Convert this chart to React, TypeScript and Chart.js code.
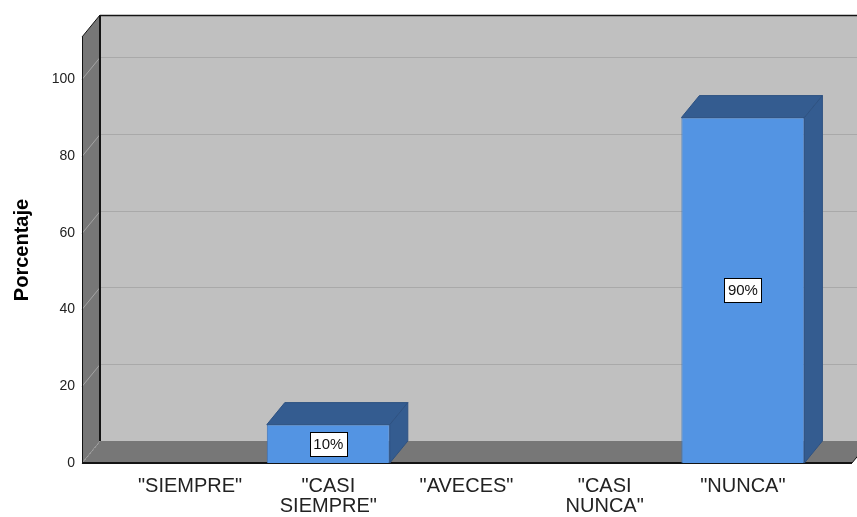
import React, { useEffect, useRef } from 'react';
import { Chart, registerables } from 'chart.js';

Chart.register(...registerables);

// ---- data ----
const categories: string[][] = [
  ['"SIEMPRE"'],
  ['"CASI', 'SIEMPRE"'],
  ['"AVECES"'],
  ['"CASI', 'NUNCA"'],
  ['"NUNCA"'],
];
const percentages: number[] = [0, 10, 0, 0, 90];
const valueLabels: string[] = ['', '10%', '', '', '90%'];
const yTickValues: number[] = [0, 20, 40, 60, 80, 100];
const yMax = 111;
const yTitle = 'Porcentaje';

// ---- style ----
const FONT = '"Liberation Sans", Arial, Helvetica, sans-serif';
const DX = 18;
const DY = -22;
const WALL_MARGIN_L = 39;
const WALL_MARGIN_R = 40;
const BACK_WALL = '#c0c0c0';
const SIDE_WALL = '#777777';
const GRID_BACK = '#a9a9a9';
const GRID_SIDE = '#a4a4a4';
const EDGE = '#141414';
const BAR_FRONT = '#5394e3';
const BAR_SHADE = '#345c90';

function poly(ctx: CanvasRenderingContext2D, pts: number[][], fill: string, stroke?: string) {
  ctx.beginPath();
  ctx.moveTo(pts[0][0], pts[0][1]);
  for (let i = 1; i < pts.length; i++) ctx.lineTo(pts[i][0], pts[i][1]);
  ctx.closePath();
  ctx.fillStyle = fill;
  ctx.fill();
  if (stroke) {
    ctx.strokeStyle = stroke;
    ctx.lineWidth = 1;
    ctx.stroke();
  }
}

function line(ctx: CanvasRenderingContext2D, x1: number, y1: number, x2: number, y2: number, color: string, w: number) {
  ctx.beginPath();
  ctx.moveTo(x1, y1);
  ctx.lineTo(x2, y2);
  ctx.strokeStyle = color;
  ctx.lineWidth = w;
  ctx.stroke();
}

const threeDPlugin = {
  id: 'threeD',
  beforeDatasetsDraw(chart: any) {
    const { ctx, chartArea: a, scales } = chart;
    const ys = scales.y;
    const L = Math.round(a.left - WALL_MARGIN_L);
    const R = Math.round(a.right + WALL_MARGIN_R);
    const T = Math.round(a.top);
    const B = Math.round(a.bottom);
    ctx.save();
    // back wall
    ctx.fillStyle = BACK_WALL;
    ctx.fillRect(L + DX, T + DY, R - L, B - T);
    // left wall
    poly(ctx, [[L, T], [L + DX, T + DY], [L + DX, B + DY], [L, B]], SIDE_WALL);
    // floor
    poly(ctx, [[L, B], [L + DX, B + DY], [R + DX, B + DY], [R, B]], SIDE_WALL);
    // gridlines
    yTickValues.forEach((v) => {
      const py = Math.round(ys.getPixelForValue(v)) + 0.5;
      if (v > 0) {
        line(ctx, L + DX, py + DY, R + DX, py + DY, GRID_BACK, 1);
        line(ctx, L, py, L + DX, py + DY, GRID_SIDE, 1);
      } else {
        ctx.setLineDash([2, 2]);
        line(ctx, L, py, L + DX, py + DY, GRID_SIDE, 1);
        ctx.setLineDash([]);
      }
    });
    // edges
    line(ctx, L + 0.5, T, L + 0.5, B, EDGE, 1);
    line(ctx, L, T, L + DX, T + DY, EDGE, 1);
    line(ctx, L + DX, T + DY + 0.5, R + DX, T + DY + 0.5, EDGE, 1.5);
    line(ctx, L + DX, T + DY, L + DX, B + DY, EDGE, 2);
    line(ctx, L, B, R, B, EDGE, 2);
    line(ctx, R, B, R + DX, B + DY, EDGE, 1);
    ctx.restore();
  },
  afterDatasetsDraw(chart: any) {
    const { ctx } = chart;
    const meta = chart.getDatasetMeta(0);
    ctx.save();
    meta.data.forEach((el: any, i: number) => {
      if (!(percentages[i] > 0)) return;
      const { x, y, base, width } = el.getProps(['x', 'y', 'base', 'width'], true);
      const l = x - width / 2;
      const r = x + width / 2;
      // top face
      poly(ctx, [[l, y], [r, y], [r + DX, y + DY], [l + DX, y + DY]], BAR_SHADE, '#2e5282');
      // side face
      poly(ctx, [[r, y], [r + DX, y + DY], [r + DX, base + DY], [r, base]], BAR_SHADE, '#2e5282');
      // value label
      const text = valueLabels[i];
      if (text) {
        ctx.font = `15px ${FONT}`;
        const tw = ctx.measureText(text).width;
        const bw = Math.round(tw + 7);
        const bh = 24;
        const cy = (y + base) / 2;
        const bx = Math.round(x - bw / 2) + 0.5;
        const by = Math.round(cy - bh / 2) + 0.5;
        ctx.fillStyle = '#ffffff';
        ctx.fillRect(bx, by, bw, bh);
        ctx.strokeStyle = '#000000';
        ctx.lineWidth = 1;
        ctx.strokeRect(bx, by, bw, bh);
        ctx.fillStyle = '#111111';
        ctx.textAlign = 'center';
        ctx.textBaseline = 'middle';
        ctx.fillText(text, x, cy + 1);
      }
    });
    ctx.restore();
  },
};

export default function App() {
  const ref = useRef<HTMLCanvasElement | null>(null);
  useEffect(() => {
    if (!ref.current) return;
    const chart = new Chart(ref.current, {
      type: 'bar',
      data: {
        labels: categories as any,
        datasets: [
          {
            data: percentages,
            backgroundColor: BAR_FRONT,
            borderColor: '#3f74b8',
            borderWidth: 1,
            barPercentage: 0.89,
            categoryPercentage: 1,
          },
        ],
      },
      options: {
        animation: false,
        responsive: false,
        maintainAspectRatio: false,
        events: [],
        layout: { padding: { top: 37, right: 45, left: 0, bottom: 0 } },
        plugins: {
          legend: { display: false },
          tooltip: { enabled: false },
          title: { display: false },
        },
        scales: {
          x: {
            type: 'category',
            offset: true,
            grid: { display: false, drawTicks: false },
            border: { display: false },
            ticks: {
              autoSkip: false,
              maxRotation: 0,
              minRotation: 0,
              padding: 13,
              color: '#222222',
              font: { family: FONT, size: 20, lineHeight: 1.0 },
            },
            afterFit: (s: any) => {
              s.height = 54;
              s.paddingLeft = 0;
              s.paddingRight = 0;
            },
          },
          y: {
            type: 'linear',
            min: 0,
            max: yMax,
            afterBuildTicks: (s: any) => {
              s.ticks = yTickValues.map((v) => ({ value: v }));
            },
            grid: { display: false, drawTicks: false },
            border: { display: false },
            ticks: {
              padding: 46,
              color: '#222222',
              font: { family: FONT, size: 14 },
            },
            title: {
              display: true,
              text: yTitle,
              color: '#000000',
              font: { family: FONT, size: 20, weight: 'bold' },
              padding: { top: 10, bottom: 0 },
            },
            afterFit: (s: any) => {
              s.width = 121;
              s.paddingTop = 0;
              s.paddingBottom = 0;
            },
          },
        },
      },
      plugins: [threeDPlugin],
    });
    return () => chart.destroy();
  }, []);
  return (
    <div style={{ position: 'fixed', left: 0, top: 0, width: 857, height: 517, background: '#ffffff' }}>
      <canvas ref={ref} width={857} height={517} style={{ display: 'block' }} />
    </div>
  );
}
